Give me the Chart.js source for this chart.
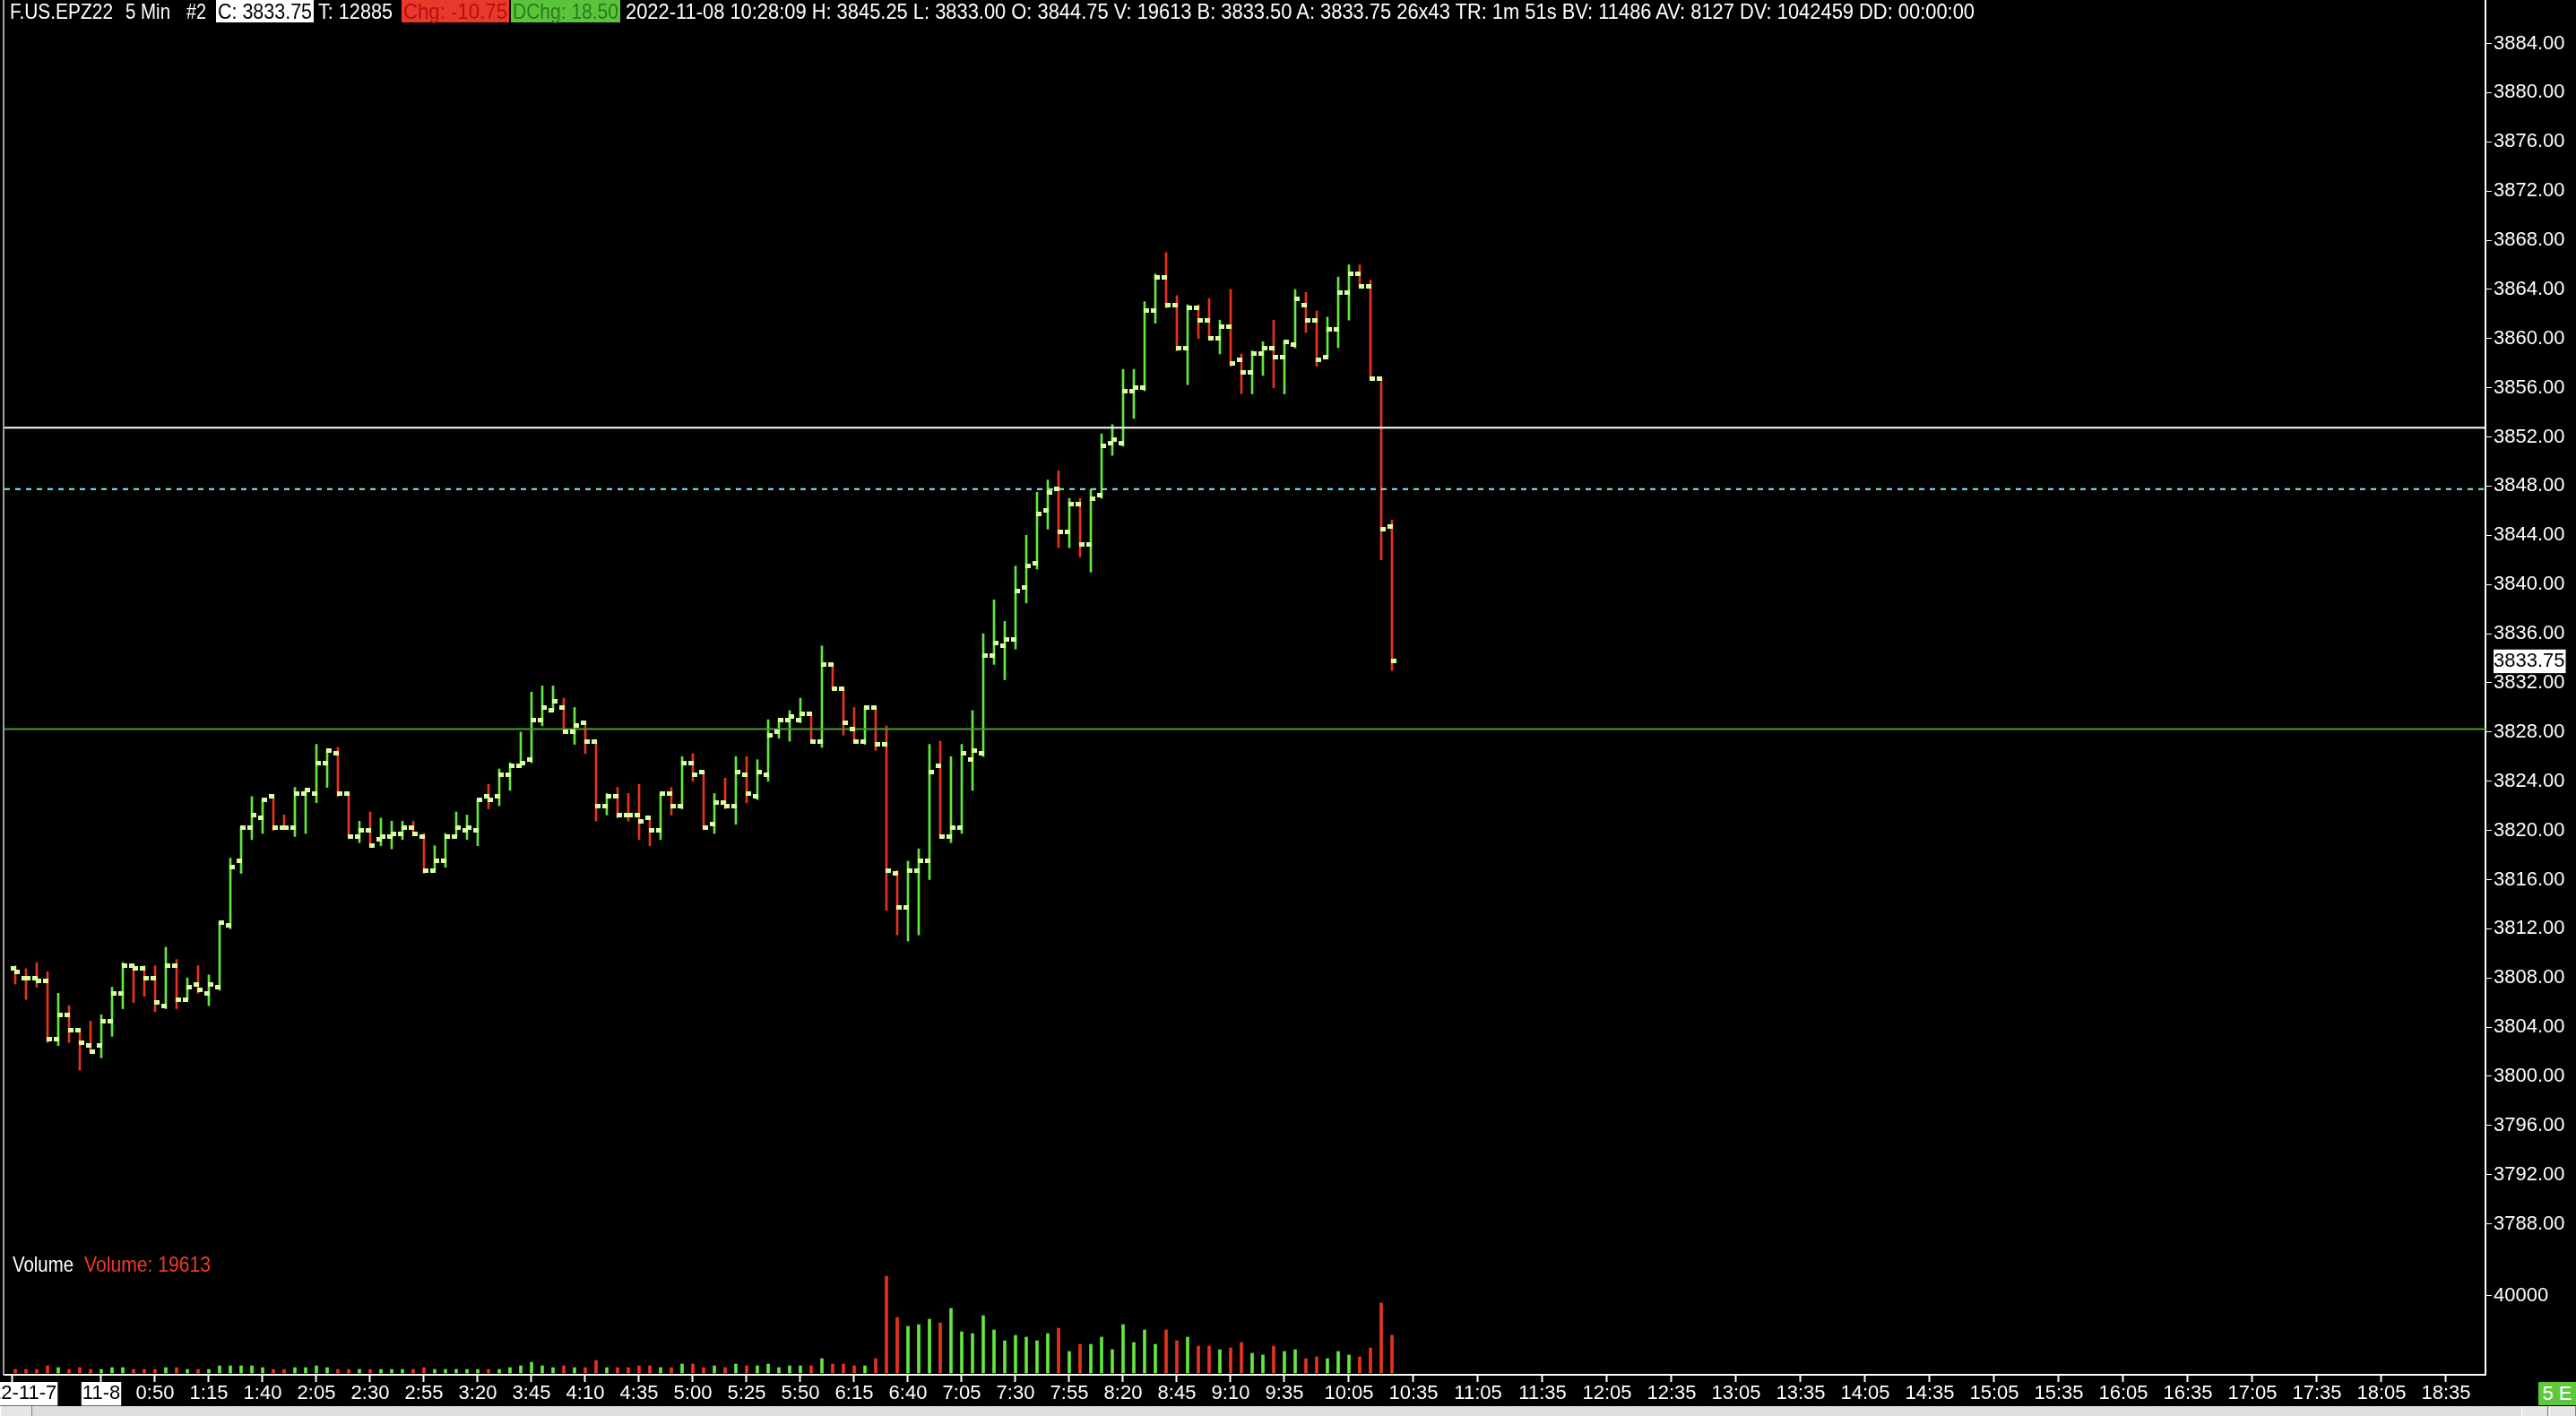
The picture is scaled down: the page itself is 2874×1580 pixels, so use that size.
<!DOCTYPE html>
<html><head><meta charset="utf-8">
<script src="https://cdn.jsdelivr.net/npm/chart.js@4.4.1/dist/chart.umd.min.js"></script>
<style>
html,body{margin:0;padding:0;background:#000;overflow:hidden;width:2874px;height:1580px}
#wrap{position:relative;width:2874px;height:1580px;background:#000}
canvas{position:absolute;left:0;top:0}
.t{position:absolute;white-space:pre;font-family:'Liberation Sans',Arial,sans-serif;font-size:24px;line-height:25px;transform-origin:0 0;color:#fff}
.bgbox{position:absolute;top:0;height:25px}
#strip{position:absolute;left:0;top:1569px;width:2874px;height:11px;background:repeating-conic-gradient(#f4f4f4 0 25%,#c8c8c8 0 50%) 0 0/2px 2px}
.btn{position:absolute;top:1569px;height:11px;background:#e6e6e6;border-left:1px solid #fff;border-right:1px solid #808080;box-sizing:border-box}
#fiveE{position:absolute;left:2832px;top:1542px;width:42px;height:26px;background:#5ec83c;color:#fff;font-family:'Liberation Sans',Arial,sans-serif;font-size:22px;line-height:26px;text-align:center;white-space:pre}
#lborder{position:absolute;left:3px;top:0;width:2px;height:1535px;background:#a0a0a0}
</style></head><body>
<div id="wrap">
<canvas id="c" width="2874" height="1580"></canvas>
<div id="lborder"></div>
<div id="hdr"></div>
<div id="vlab"></div>
<div id="fiveE">5 E</div>
<div id="strip"></div>
<div class="btn" style="left:0;width:36px"></div>
<div class="btn" style="left:2813px;width:30px"></div>
<div class="btn" style="left:2844px;width:30px"></div>
</div>
<script>
// ---- data (5-min bars, index 0 = first bar shown) ----
const opens = [
3808.75,3808.0,3808.0,3807.75,3803.0,3805.0,3803.75,3802.5,3802.5,3804.5,
3806.75,3809.0,3808.75,3808.0,3805.75,3809.0,3806.25,3807.5,3806.75,3807.25,
3812.25,3817.5,3820.25,3821.0,3822.75,3820.25,3820.25,3823.0,3823.0,3825.5,
3826.25,3823.0,3819.5,3820.0,3819.25,3819.5,3819.75,3820.25,3819.5,3816.75,
3817.5,3819.5,3820.0,3820.0,3822.75,3822.75,3824.5,3825.25,3825.75,3829.0,
3829.75,3830.0,3828.0,3828.75,3827.25,3822.0,3822.75,3821.25,3821.25,3821.0,
3820.0,3823.0,3822.0,3825.5,3824.75,3820.5,3822.25,3822.0,3824.5,3822.75,
3824.5,3828.0,3829.0,3829.0,3829.5,3827.25,3833.5,3831.5,3828.25,3827.25,
3830.0,3827.0,3816.5,3813.75,3816.75,3817.5,3825.25,3819.5,3820.25,3825.75,
3826.25,3834.25,3835.0,3835.5,3839.75,3841.75,3846.0,3847.75,3844.25,3846.5,
3843.25,3847.25,3851.5,3851.5,3855.75,3856.0,3862.25,3865.0,3862.75,3859.25,
3862.5,3861.5,3860.0,3861.0,3858.25,3857.25,3858.75,3859.25,3858.5,3859.5,
3862.75,3861.5,3858.5,3860.75,3863.75,3865.25,3864.25,3856.75,3844.75];
const highs = [
3809.0,3808.75,3809.25,3808.5,3806.75,3805.75,3803.75,3804.5,3805.0,3807.25,
3809.25,3809.0,3809.0,3809.0,3810.5,3809.5,3808.0,3809.0,3808.25,3812.5,
3817.75,3820.25,3822.75,3822.5,3822.75,3821.25,3823.5,3823.25,3827.0,3826.5,
3826.75,3823.0,3820.75,3821.5,3821.0,3820.75,3820.75,3820.75,3819.75,3818.75,
3819.75,3821.5,3821.25,3822.5,3823.75,3825.0,3825.5,3828.0,3831.25,3831.75,
3831.75,3830.75,3830.0,3828.75,3827.25,3823.0,3823.5,3823.0,3823.75,3821.0,
3823.0,3823.5,3826.0,3826.25,3824.75,3823.0,3824.25,3826.0,3826.0,3825.75,
3829.0,3829.0,3829.75,3830.75,3829.5,3835.0,3833.5,3831.5,3830.0,3830.0,
3830.0,3828.5,3816.75,3817.5,3818.5,3827.0,3827.25,3826.0,3827.0,3829.75,
3836.0,3838.75,3837.0,3841.5,3844.0,3847.5,3848.5,3849.25,3847.0,3847.0,
3847.75,3852.25,3853.0,3857.5,3857.5,3863.0,3865.25,3867.0,3863.5,3862.75,
3862.75,3863.25,3861.5,3864.0,3858.75,3859.0,3859.75,3861.5,3859.75,3864.0,
3863.75,3862.25,3861.75,3865.0,3866.0,3866.0,3864.75,3856.75,3845.25];
const lows = [
3807.5,3806.25,3807.25,3802.75,3802.5,3802.75,3800.5,3802.0,3801.5,3803.25,
3805.5,3806.0,3806.5,3805.25,3805.5,3805.5,3806.25,3806.75,3805.75,3807.0,
3812.0,3816.5,3819.25,3819.75,3820.0,3820.25,3819.5,3819.75,3822.25,3823.5,
3822.75,3819.5,3819.0,3818.75,3818.75,3818.5,3819.25,3819.75,3816.5,3816.75,
3817.0,3819.5,3819.25,3818.75,3821.75,3822.0,3823.25,3825.25,3825.5,3828.5,
3829.75,3828.0,3827.0,3826.25,3820.75,3821.25,3821.0,3820.75,3819.25,3818.75,
3819.25,3821.25,3821.75,3824.0,3820.25,3819.75,3821.75,3820.5,3822.25,3822.5,
3824.0,3827.5,3827.25,3828.75,3827.25,3826.75,3831.5,3827.75,3827.25,3827.0,
3826.5,3813.5,3811.5,3811.0,3811.5,3816.0,3819.5,3819.0,3819.75,3823.25,
3826.0,3833.5,3832.25,3834.75,3838.5,3841.25,3844.5,3843.0,3843.0,3842.25,
3841.0,3847.0,3850.5,3851.25,3853.5,3855.75,3861.25,3862.5,3859.0,3856.25,
3860.0,3860.0,3858.75,3857.75,3855.5,3855.5,3857.0,3856.0,3855.5,3859.25,
3860.5,3857.75,3858.5,3859.25,3861.5,3864.25,3856.75,3842.0,3833.0];
const closes = [
3808.5,3808.0,3807.75,3803.0,3805.0,3803.75,3802.75,3802.0,3804.5,3806.75,
3809.0,3808.75,3808.0,3806.0,3809.0,3806.25,3807.25,3807.0,3807.5,3812.5,
3817.0,3820.25,3821.25,3822.5,3820.25,3820.25,3823.0,3823.25,3825.5,3826.5,
3823.0,3819.5,3820.0,3818.75,3819.5,3819.75,3820.25,3819.75,3816.75,3817.5,
3819.5,3820.25,3820.25,3822.5,3822.5,3824.5,3825.25,3825.5,3829.0,3830.0,
3830.5,3828.0,3828.5,3827.25,3822.0,3822.75,3821.25,3821.25,3820.75,3820.0,
3823.0,3822.0,3825.5,3824.5,3820.25,3822.25,3822.0,3824.75,3823.0,3824.75,
3827.75,3829.0,3829.25,3829.5,3827.25,3833.5,3831.5,3828.75,3827.25,3830.0,
3827.0,3816.75,3813.75,3816.75,3817.5,3824.75,3819.5,3820.25,3826.25,3826.5,
3834.25,3835.25,3835.5,3839.5,3841.5,3845.75,3847.5,3844.25,3846.5,3843.25,
3847.0,3851.25,3851.75,3855.75,3856.0,3862.25,3865.0,3862.75,3859.25,3862.5,
3861.5,3860.0,3861.0,3858.0,3857.25,3858.75,3859.25,3858.5,3859.75,3863.25,
3861.5,3858.25,3860.75,3863.75,3865.25,3864.25,3856.75,3844.5,3833.75];
const volumes = [
1860,1860,1860,3720,2790,1860,2790,1860,1860,2790,
2790,1860,1860,1860,2790,2790,1860,1860,1860,3720,
3720,3720,3720,2790,1860,1860,2790,2790,3720,2790,
1860,1860,1860,1860,1860,1860,1860,1860,2790,1860,
1860,1860,1860,1860,1860,1860,2790,3720,5580,3720,
2790,3720,2790,2790,6510,2790,2790,2790,3720,3720,
2790,2790,4650,4650,2790,3720,2790,4650,3720,3720,
4650,2790,3720,3720,3720,7440,4650,4650,3720,3720,
7440,50220,28830,24180,25110,27900,26040,33480,21390,20460,
29760,22320,16740,19530,18600,16740,20460,23250,11160,14880,
14880,18600,12090,25110,15810,22320,14880,22320,16740,18600,
13950,13950,12090,13020,15810,10230,9300,13950,11160,12090,
7440,8370,7440,11160,9300,8370,13020,36270,19613];

// horizontal reference levels
const levelSolid = 3852.75;   // white line
const levelDashed = 3847.75;  // dashed line
const levelGreen = 3828.25;   // green line
const lastPrice = 3833.75;

// axis tick labels
const priceTicks = [3788,3792,3796,3800,3804,3808,3812,3816,3820,3824,3828,3832,3836,3840,3844,3848,3852,3856,3860,3864,3868,3872,3876,3880,3884];
const volumeTicks = [40000];
const timeTickIdx = [-0.25,8,13,18,23,28,33,38,43,48,53,58,63,68,73,78,83,88,93,98,103,108,113,118,124,130,136,142,148,154,160,166,172,178,184,190,196,202,208,214,220,226];
const timeTickLabels = ['2022-11-7','11-8','0:50','1:15','1:40','2:05','2:30','2:55','3:20','3:45','4:10','4:35','5:00','5:25','5:50','6:15','6:40','7:05','7:30','7:55','8:20','8:45','9:10','9:35','10:05','10:35','11:05','11:35','12:05','12:35','13:05','13:35','14:05','14:35','15:05','15:35','16:05','16:35','17:05','17:35','18:05','18:35'];
const dateTickCount = 2;

// header texts
const headerSegs = [
 {t:'F.US.EPZ22', l:11, r:126},
 {t:'5 Min', l:140, r:190},
 {t:'#2', l:208, r:230},
 {t:'C: 3833.75', l:241, r:350, bg:'#ffffff', fg:'#000000'},
 {t:'T: 12885', l:355, r:438},
 {t:'Chg: -10.75', l:448, r:568, bg:'#e8392a', fg:'#b41010'},
 {t:'DChg: 18.50', l:570, r:692, bg:'#5cc43c', fg:'#2a7a1a'},
 {t:'2022-11-08 10:28:09 H: 3845.25 L: 3833.00 O: 3844.75 V: 19613 B: 3833.50 A: 3833.75 26x43 TR: 1m 51s BV: 11486 AV: 8127 DV: 1042459 DD: 00:00:00', l:698, r:2203}
];
const volSegs = [
 {t:'Volume', l:14, r:82, fg:'#ffffff'},
 {t:'Volume: 19613', l:94, r:235, fg:'#f03a24'}
];

// ---- styling ----
const UP = '#62e83e', DOWN = '#e8321e', SQ = '#d8fca0';
const FONT = 'Liberation Sans';

function fitText(parent, seg, top) {
  if (seg.bg) {
    const b = document.createElement('div');
    b.className = 'bgbox';
    b.style.left = seg.l + 'px'; b.style.width = (seg.r - seg.l) + 'px';
    b.style.top = top + 'px'; b.style.background = seg.bg;
    parent.appendChild(b);
  }
  const s = document.createElement('div');
  s.className = 't';
  s.textContent = seg.t;
  s.style.top = top + 'px';
  s.style.left = (seg.l + (seg.bg ? 2 : 0)) + 'px';
  if (seg.fg) s.style.color = seg.fg;
  parent.appendChild(s);
  const w = s.getBoundingClientRect().width;
  const target = (seg.r - seg.l) - (seg.bg ? 4 : 0);
  s.style.transform = 'scaleX(' + (target / w) + ')';
}
const hdr = document.getElementById('hdr');
headerSegs.forEach(s => fitText(hdr, s, 0));
const vlab = document.getElementById('vlab');
volSegs.forEach(s => fitText(vlab, s, 1398));

// square marker image
const sq = document.createElement('canvas');
sq.width = 6; sq.height = 5;
const sctx = sq.getContext('2d'); sctx.fillStyle = SQ; sctx.fillRect(0, 0, 6, 5);

const dir = closes.map((c, i) => c > opens[i] ? UP : DOWN);
const idx = closes.map((_, i) => i);

const X_MIN = -1, X_MAX = 229.667;
const PX_PER_BAR = 12;
const markOff = 2 / PX_PER_BAR;

// price pane = top 1400px, volume pane = bottom 134px of the 1534px plot
const PRICE_H = 1400, VOL_H = 134;
const P_MIN = 3785.494, P_MAX = 3887.535;
const V_MIN = -930, V_MAX = 61380;

function noPad(s) { s.paddingLeft = 0; s.paddingRight = 0; s.paddingTop = 0; s.paddingBottom = 0; }

new Chart(document.getElementById('c'), {
  data: {
    datasets: [
      {type: 'scatter', label: 'open', data: idx.map(i => ({x: i - markOff, y: opens[i]})),
       pointStyle: sq, pointRadius: 3, pointHoverRadius: 3, order: 0, yAxisID: 'y', xAxisID: 'x'},
      {type: 'scatter', label: 'close', data: idx.map(i => ({x: i + markOff, y: closes[i]})),
       pointStyle: sq, pointRadius: 3, pointHoverRadius: 3, order: 0, yAxisID: 'y', xAxisID: 'x'},
      {type: 'line', label: 'solid', data: [{x: X_MIN, y: levelSolid}, {x: X_MAX, y: levelSolid}],
       borderColor: '#ffffff', borderWidth: 2, pointRadius: 0, order: 1, yAxisID: 'y'},
      {type: 'line', label: 'dashed', data: [{x: X_MIN, y: levelDashed}, {x: X_MAX, y: levelDashed}],
       borderColor: '#88eefa', borderWidth: 2, borderDash: [6, 6], pointRadius: 0, order: 1, yAxisID: 'y'},
      {type: 'line', label: 'green', data: [{x: X_MIN, y: levelGreen}, {x: X_MAX, y: levelGreen}],
       borderColor: '#4a9a2c', borderWidth: 2, pointRadius: 0, order: 1, yAxisID: 'y'},
      {type: 'bar', label: 'range', data: idx.map(i => ({x: i, y: [lows[i], highs[i]]})),
       backgroundColor: dir, barThickness: 2, grouped: false, borderWidth: 0, order: 2, yAxisID: 'y'},
      {type: 'bar', label: 'volume', data: idx.map(i => ({x: i, y: volumes[i]})),
       backgroundColor: dir, barThickness: 3, grouped: false, borderWidth: 0, order: 3, yAxisID: 'yv'}
    ]
  },
  options: {
    responsive: false, animation: false, devicePixelRatio: 1, events: [],
    layout: {padding: {left: 5, right: 0, top: 0, bottom: 0}, autoPadding: false},
    plugins: {legend: {display: false}, tooltip: {enabled: false}, title: {display: false}},
    scales: {
      x: {
        type: 'linear', position: 'bottom', min: X_MIN, max: X_MAX, offset: false,
        afterFit: s => { s.height = 46; noPad(s); },
        afterBuildTicks: s => { s.ticks = timeTickIdx.map(v => ({value: v})); },
        grid: {drawOnChartArea: false, drawTicks: true, tickLength: 8, tickColor: '#ffffff', tickWidth: 2, offset: false},
        border: {display: true, color: '#ffffff', width: 2},
        ticks: {
          autoSkip: false, maxRotation: 0, minRotation: 0, padding: 0,
          font: {family: FONT, size: 22},
          color: c => c.index < dateTickCount ? '#000000' : '#ffffff',
          showLabelBackdrop: c => c.index < dateTickCount,
          backdropColor: '#ffffff', backdropPadding: {left: 1, right: 1, top: 0, bottom: 0},
          callback: (v, i) => timeTickLabels[i]
        }
      },
      y: {
        type: 'linear', position: 'right', stack: 'right', stackWeight: PRICE_H, weight: 0,
        min: P_MIN, max: P_MAX,
        afterFit: s => { s.width = 101; noPad(s); },
        afterBuildTicks: s => { s.ticks = priceTicks.map(v => ({value: v})).concat([{value: lastPrice}]); },
        grid: {drawOnChartArea: false, drawTicks: true, tickLength: 7, tickWidth: 1,
               tickColor: c => (c.tick && c.tick.value === lastPrice) ? 'rgba(0,0,0,0)' : '#ffffff'},
        border: {display: true, color: '#ffffff', width: 2},
        ticks: {
          autoSkip: false, padding: 2, font: {family: FONT, size: 22},
          color: c => (c.tick && c.tick.value === lastPrice) ? '#000000' : '#ffffff',
          showLabelBackdrop: c => !!(c.tick && c.tick.value === lastPrice),
          backdropColor: '#ffffff', backdropPadding: {left: 0, right: 1, top: 0, bottom: 0},
          callback: v => Number(v).toFixed(2)
        }
      },
      yv: {
        type: 'linear', position: 'right', stack: 'right', stackWeight: VOL_H, weight: 1,
        min: V_MIN, max: V_MAX,
        afterFit: s => { s.width = 101; noPad(s); },
        afterBuildTicks: s => { s.ticks = volumeTicks.map(v => ({value: v})); },
        grid: {drawOnChartArea: false, drawTicks: true, tickLength: 7, tickColor: '#ffffff', tickWidth: 1},
        border: {display: true, color: '#ffffff', width: 2},
        ticks: {autoSkip: false, padding: 2, color: '#ffffff', font: {family: FONT, size: 22}, callback: v => String(v)}
      }
    }
  }
});
</script>
</body></html>
